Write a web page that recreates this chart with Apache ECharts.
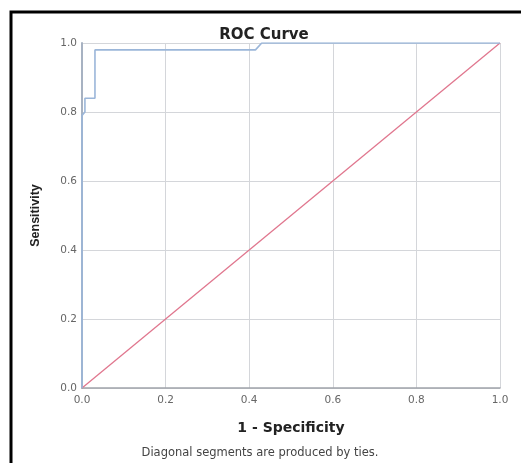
<!DOCTYPE html>
<html>
<head>
<meta charset="utf-8">
<script src="https://cdn.jsdelivr.net/npm/echarts@6/dist/echarts.min.js"></script>
<style>
html, body { margin: 0; padding: 0; background: #fff; }
#chart { width: 521px; height: 463px; }
</style>
</head>
<body>
<div id="chart"></div>
<script>
// ROC curve points (1 - specificity, sensitivity)
var rocX = [0, 0, 0.007, 0.007, 0.031, 0.031, 0.415, 0.43, 1.0];
var rocY = [0, 0.79, 0.80, 0.84, 0.84, 0.98, 0.98, 1.0, 1.0];
// reference diagonal
var diagX = [0, 1];
var diagY = [0, 1];

function pairs(xs, ys) {
    var out = [];
    for (var i = 0; i < xs.length; i++) {
        out.push([xs[i], ys[i]]);
    }
    return out;
}

var chart = echarts.init(document.getElementById('chart'));
var option = {
    animation: false,
    backgroundColor: '#fff',
    title: {
        text: 'ROC Curve',
        left: 259,
        top: 23,
        textAlign: 'center',
        textStyle: {
            fontFamily: 'DejaVu Sans',
            fontSize: 15,
            fontWeight: 'bold',
            color: '#222'
        }
    },
    graphic: [
        {
            type: 'rect',
            shape: { x: 11, y: 12, width: 530, height: 470 },
            style: { fill: null, stroke: '#000', lineWidth: 3 },
            silent: true
        },
        {
            type: 'text',
            x: 260,
            y: 453,
            style: {
                text: 'Diagonal segments are produced by ties.',
                fontFamily: 'DejaVu Sans',
                fontSize: 11.5,
                fill: '#444',
                align: 'center',
                verticalAlign: 'middle'
            },
            silent: true
        }
    ],
    grid: {
        left: 82,
        top: 43,
        right: 21,
        bottom: 75
    },
    xAxis: {
        type: 'value',
        min: 0,
        max: 1,
        interval: 0.2,
        name: '1 - Specificity',
        nameLocation: 'middle',
        nameGap: 33,
        nameTextStyle: {
            fontFamily: 'DejaVu Sans',
            fontSize: 14,
            fontWeight: 'bold',
            color: '#222'
        },
        axisLine: { lineStyle: { color: '#a0a4aa', width: 1.5 } },
        axisTick: { show: false },
        axisLabel: {
            fontFamily: 'DejaVu Sans',
            fontSize: 10.5,
            color: '#666',
            margin: 7,
            formatter: function (v) { return v.toFixed(1); }
        },
        splitLine: { show: true, lineStyle: { color: '#d4d6da', width: 1 } }
    },
    yAxis: {
        type: 'value',
        min: 0,
        max: 1,
        interval: 0.2,
        name: 'Sensitivity',
        nameLocation: 'middle',
        nameGap: 40,
        nameTextStyle: {
            fontFamily: 'Liberation Sans',
            fontSize: 12.5,
            fontWeight: 'bold',
            color: '#222'
        },
        axisLine: { show: true, lineStyle: { color: '#a7b2c2', width: 2 } },
        axisTick: { show: false },
        axisLabel: {
            fontFamily: 'DejaVu Sans',
            fontSize: 10.5,
            color: '#666',
            margin: 5,
            formatter: function (v) { return v.toFixed(1); }
        },
        splitLine: { show: true, lineStyle: { color: '#d4d6da', width: 1 } }
    },
    series: [
        {
            name: 'Reference',
            type: 'line',
            data: pairs(diagX, diagY),
            symbol: 'none',
            lineStyle: { color: '#e0768e', width: 1.3 },
            z: 2
        },
        {
            name: 'ROC',
            type: 'line',
            data: pairs(rocX, rocY),
            symbol: 'none',
            lineStyle: { color: '#9bb6d9', width: 1.6 },
            z: 3
        }
    ]
};
chart.setOption(option);
</script>
</body>
</html>
